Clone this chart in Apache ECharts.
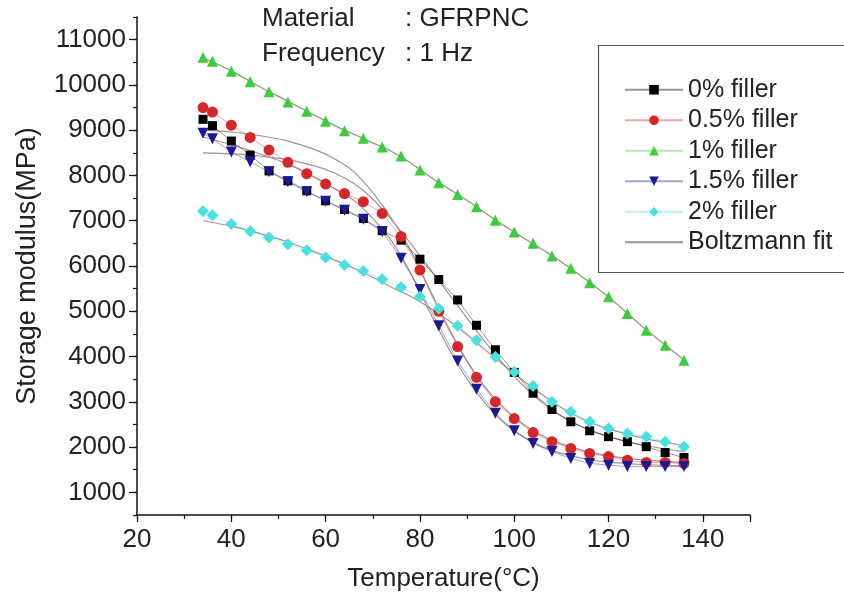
<!DOCTYPE html>
<html><head><meta charset="utf-8">
<script src="https://cdn.jsdelivr.net/npm/echarts@6/dist/echarts.min.js"></script>
<style>html,body{margin:0;padding:0;background:#fff}#c{width:844px;height:609px}</style>
</head><body><div id="c"></div>
<script>
const temps = [34,36,40,44,48,52,56,60,64,68,72,76,80,84,88,92,96,100,104,108,112,116,120,124,128,132,136];
const filler0  = [9240,9100,8760,8450,8100,7880,7660,7440,7250,7050,6780,6570,6150,5700,5250,4690,4150,3650,3190,2830,2560,2360,2230,2120,2010,1880,1770];
const filler05 = [9500,9400,9110,8840,8560,8290,8040,7810,7600,7420,7160,6650,5910,5000,4220,3540,3000,2630,2320,2120,1970,1860,1790,1710,1660,1660,1640];
const filler1  = [10610,10520,10300,10070,9850,9620,9420,9200,8990,8820,8630,8430,8120,7840,7580,7310,7010,6750,6500,6220,5950,5630,5320,4950,4580,4250,3920];
const filler15 = [8930,8810,8520,8300,8080,7860,7640,7430,7230,7030,6760,6170,5480,4680,3900,3280,2750,2360,2080,1900,1750,1640,1600,1570,1570,1570,1570];
const filler2  = [7210,7120,6930,6770,6630,6480,6350,6190,6020,5890,5710,5530,5320,5060,4680,4360,3990,3660,3350,3000,2780,2560,2410,2300,2230,2120,2010];

const fitTemps = [34,40,46,52,58,62,66,70,74,78,82,86,90,94,98,102,106,110,116,122,128,136];
const fit0  = [8500,8480,8430,8350,8200,8050,7820,7480,7020,6500,5950,5400,4850,4300,3800,3350,2980,2680,2380,2170,2030,1900];
const fit05 = [9000,8960,8880,8760,8560,8360,8080,7620,7050,6350,5500,4650,3900,3300,2850,2500,2250,2070,1890,1780,1710,1660];
const fit1  = [10600,10310,9960,9640,9310,9100,8910,8720,8530,8280,7980,7710,7450,7160,6880,6620,6360,6090,5640,5140,4590,3930];
const fit15 = [8850,8680,8480,8250,7950,7700,7450,7050,6550,5850,5000,4200,3500,2950,2520,2220,2010,1860,1720,1650,1610,1585];
const fit2  = [7000,6880,6720,6530,6300,6130,5950,5750,5530,5330,5080,4800,4480,4130,3790,3460,3150,2870,2550,2340,2180,2030];

const names = ['0% filler','0.5% filler','1% filler','1.5% filler','2% filler'];
const yMajor = [1000,2000,3000,4000,5000,6000,7000,8000,9000,10000,11000];
const xLabels = [20,40,60,80,100,120,140];

const font = 'Liberation Sans, Arial, sans-serif';
const txt = '#222';
const fitColor = '#a89090';

function pairs(xs, ys){ return xs.map((x,i)=>[x, ys[i]]); }

const dataSets = [filler0, filler05, filler1, filler15, filler2];
const fitSets = [fit0, fit05, fit1, fit15, fit2];
const colors = ['#000000','#d42828','#3ccc3c','#1a1a96','#48e0e0'];
const symbols = ['rect','circle','triangle','triangle','diamond'];
const rot = [0,0,0,180,0];
const sizes = [9,11,11,11,12];

const series = [];
fitSets.forEach((f,i)=>{
  series.push({
    name:'Boltzmann fit', type:'line', data:pairs(fitTemps,f), smooth:0.35,
    showSymbol:false, symbol:'none', lineStyle:{color:fitColor,width:1.2}, itemStyle:{color:fitColor}, z:2, silent:true
  });
});
dataSets.forEach((d,i)=>{
  series.push({
    name:names[i], type:'line', data:pairs(temps,d),
    symbol:symbols[i], symbolRotate:rot[i], symbolSize:sizes[i],
    itemStyle:{color:colors[i]}, lineStyle:{color:colors[i],width:1,opacity:0.4}, z:3
  });
});

const chart = echarts.init(document.getElementById('c'), null, {renderer:'canvas'});
chart.setOption({
  animation:false,
  backgroundColor:'#fff',
  grid:{left:137, right:94, top:17, bottom:94},
  xAxis:[{
    type:'value', min:20, max:150, interval:10,
    axisLine:{lineStyle:{color:'#111',width:1.5}},
    axisTick:{length:4, lineStyle:{color:'#111',width:1.2}},
    axisLabel:{show:false},
    splitLine:{show:false},
    name:'Temperature(°C)', nameLocation:'middle', nameGap:51,
    nameTextStyle:{fontFamily:font,fontSize:26,color:txt}
  },{
    type:'value', min:20, max:150, interval:20, position:'bottom',
    axisLine:{show:false},
    axisTick:{length:7, lineStyle:{color:'#111',width:1.2}},
    axisLabel:{fontFamily:font,fontSize:26,color:txt,margin:12,
      formatter:v=> xLabels.includes(v)? String(v):''},
    splitLine:{show:false}
  }],
  yAxis:[{
    type:'value', min:500, max:11500, interval:500,
    axisLine:{show:true,lineStyle:{color:'#111',width:1.5}},
    axisTick:{show:true,length:4, lineStyle:{color:'#111',width:1.2}},
    axisLabel:{fontFamily:font,fontSize:26,color:txt,margin:11,
      formatter:v=> yMajor.includes(v)? String(v):''},
    splitLine:{show:false},
    name:'Storage modulus(MPa)', nameLocation:'middle', nameGap:96, nameRotate:90,
    nameTextStyle:{fontFamily:font,fontSize:27,color:txt}
  },{
    type:'value', min:500, max:11500, position:'left',
    axisLine:{show:false},
    axisTick:{show:true,length:8, customValues:yMajor, lineStyle:{color:'#111',width:1.2}},
    axisLabel:{show:false},
    splitLine:{show:false}
  }],
  legend:{
    orient:'vertical', left:619, top:72,
    data:[...names.map(n=>({name:n})), {name:'Boltzmann fit', itemStyle:{opacity:0}}],
    itemWidth:58, itemHeight:12, itemGap:5,
    textStyle:{fontFamily:font,fontSize:25,color:txt,lineHeight:25.5}
  },
  graphic:[
    {type:'rect', shape:{x:598.5,y:45.5,width:260,height:227}, style:{fill:'none',stroke:'#555',lineWidth:1.2}, z:0},
    {type:'text', left:262, top:6, style:{text:'Material', font:'26px '+font, fill:txt}},
    {type:'text', left:405, top:6, style:{text:': GFRPNC', font:'26px '+font, fill:txt}},
    {type:'text', left:262, top:41, style:{text:'Frequency', font:'26px '+font, fill:txt}},
    {type:'text', left:405, top:41, style:{text:': 1 Hz', font:'26px '+font, fill:txt}}
  ],
  series: series
});
</script></body></html>
